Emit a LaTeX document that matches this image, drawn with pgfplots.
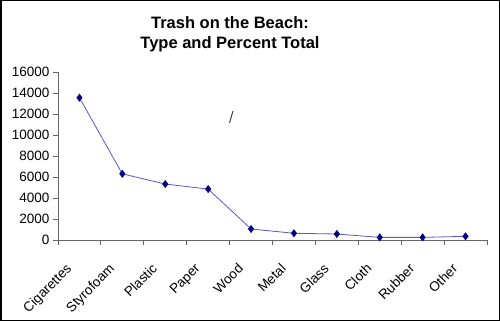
\documentclass[border=0pt]{standalone}
\usepackage{pgfplots}
\pgfplotsset{compat=1.18}
\usepackage{fontspec}
\setmainfont{Liberation Sans}
\definecolor{linec}{HTML}{5858C8}
\definecolor{markc}{HTML}{000080}
\begin{document}
\begin{tikzpicture}
\useasboundingbox (0bp,0bp) rectangle (500bp,321bp);
\draw[black, line width=1.5bp] (0.75bp,0.75bp) rectangle (499.25bp,320.25bp);
\node[font=\fontsize{16.5bp}{20bp}\selectfont\bfseries, align=center] at (230bp,287bp) {Trash on the Beach:\\Type and Percent Total};
\draw[black!75, line width=1bp] (233bp,210bp) -- (229.5bp,198bp);
\begin{axis}[
  at={(58bp,81bp)}, anchor=south west,
  scale only axis, width=429bp, height=168bp,
  xmin=-0.5, xmax=9.5, ymin=0, ymax=16000,
  axis x line*=bottom, axis y line*=left,
  axis line style={draw=gray!80!black, line width=0.8bp},
  every tick/.style={draw=gray!80!black, line width=0.8bp},
  tick align=outside,
  major tick length=5bp, minor tick length=5bp,
  ytick={0,2000,...,16000},
  scaled y ticks=false,
  yticklabel style={/pgf/number format/1000 sep={}},
  /pgf/number format/assume math mode=true,
  tick label style={font=\fontsize{13.5bp}{16bp}\selectfont},
  xtick={0,...,9},
  xticklabels={Cigarettes,Styrofoam,Plastic,Paper,Wood,Metal,Glass,Cloth,Rubber,Other},
  x tick style={draw=none},
  minor xtick={-0.5,0.5,...,9.5},
  minor x tick style={draw=gray!80!black, line width=0.8bp},
  xticklabel style={rotate=45, anchor=north east, xshift=-19bp, yshift=1bp},
  clip=false,
]
\addplot[color=linec, line width=0.8bp, mark=diamond*, mark size=3.4bp, mark options={fill=markc, draw=markc}]
coordinates {(0,13550) (1,6300) (2,5330) (3,4850) (4,1050) (5,640) (6,570) (7,250) (8,250) (9,350)};
\end{axis}
\end{tikzpicture}
\end{document}
